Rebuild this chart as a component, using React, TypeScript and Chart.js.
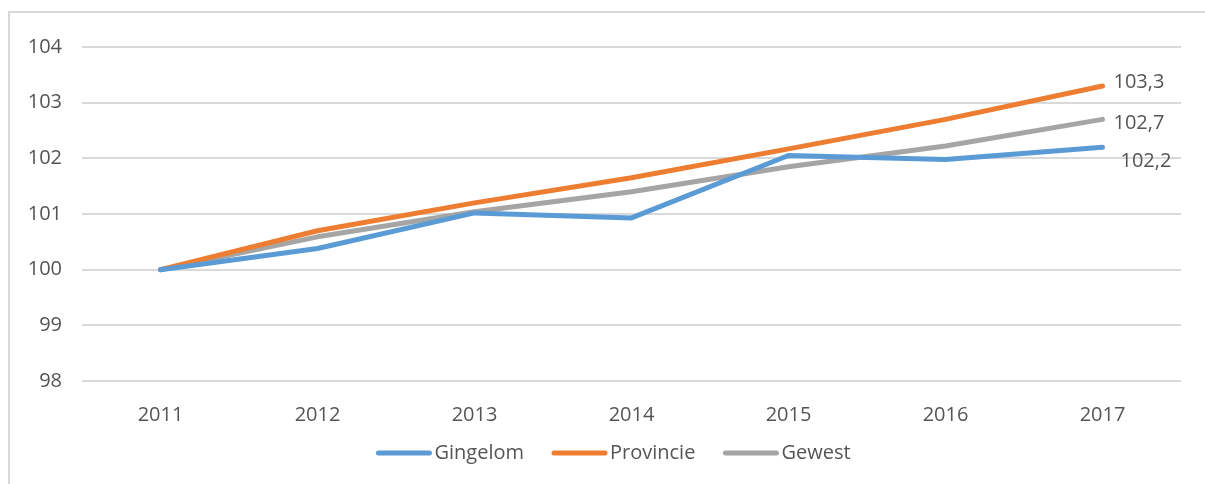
import React, { useEffect, useRef } from "react";
import { Chart, registerables } from "chart.js";

Chart.register(...registerables);

const years = ["2011", "2012", "2013", "2014", "2015", "2016", "2017"];
const gingelom = [100, 100.38, 101.02, 100.93, 102.05, 101.98, 102.2];
const provincie = [100, 100.7, 101.2, 101.65, 102.17, 102.7, 103.3];
const gewest = [100, 100.59, 101.04, 101.4, 101.85, 102.22, 102.7];
const seriesNames = ["Gingelom", "Provincie", "Gewest"];
const seriesColors = ["#5B9BD5", "#ED7D31", "#A5A5A5"];
const endLabelOffsets = [
  { dx: 18, dy: 14 },
  { dx: 11, dy: -4 },
  { dx: 11, dy: 4 },
];

const FONT = "'Open Sans', 'Liberation Sans', sans-serif";
const TEXT = "#555555";
const FS = 20;

const endLabelPlugin = {
  id: "endLabels",
  afterDatasetsDraw(chart: any) {
    const ctx = chart.ctx;
    ctx.save();
    ctx.font = `${FS}px ${FONT}`;
    ctx.fillStyle = TEXT;
    ctx.textAlign = "left";
    ctx.textBaseline = "middle";
    chart.data.datasets.forEach((ds: any, i: number) => {
      const meta = chart.getDatasetMeta(i);
      const last = meta.data[meta.data.length - 1];
      const v = ds.data[ds.data.length - 1];
      const txt = v.toFixed(1).replace(".", ",");
      const o = endLabelOffsets[i];
      ctx.fillText(txt, last.x + o.dx, last.y + o.dy);
    });
    ctx.restore();
  },
};

const legendPlugin = {
  id: "customLegend",
  afterDraw(chart: any) {
    const ctx = chart.ctx;
    ctx.save();
    ctx.font = `${FS}px ${FONT}`;
    ctx.textBaseline = "middle";
    ctx.textAlign = "left";
    const boxW = 55;
    const gap = 3;
    const itemGap = 28;
    const widths = chart.data.datasets.map(
      (ds: any) => boxW + gap + ctx.measureText(ds.label).width
    );
    const total = widths.reduce((a: number, b: number) => a + b, 0) + itemGap * (widths.length - 1);
    const cx = (chart.chartArea.left + chart.chartArea.right) / 2 - 18;
    let x = cx - total / 2;
    const y = 453;
    chart.data.datasets.forEach((ds: any, i: number) => {
      ctx.strokeStyle = ds.borderColor;
      ctx.lineWidth = 5;
      ctx.lineCap = "round";
      ctx.beginPath();
      ctx.moveTo(x + 2, y);
      ctx.lineTo(x + boxW - 2, y);
      ctx.stroke();
      ctx.fillStyle = TEXT;
      ctx.fillText(ds.label, x + boxW + gap, y);
      x += widths[i] + itemGap;
    });
    ctx.restore();
  },
};

export default function App() {
  const ref = useRef<HTMLCanvasElement>(null);
  useEffect(() => {
    if (!ref.current) return;
    const values = [gingelom, provincie, gewest];
    const chart = new Chart(ref.current, {
      type: "line",
      data: {
        labels: years,
        datasets: values.map((d, i) => ({
          label: seriesNames[i],
          data: d,
          borderColor: seriesColors[i],
          backgroundColor: seriesColors[i],
          borderWidth: 5,
          pointRadius: 0,
          borderCapStyle: "round" as const,
          borderJoinStyle: "round" as const,
          tension: 0,
        })),
      },
      options: {
        responsive: false,
        animation: false,
        layout: { padding: { left: 0, right: 24, top: 47, bottom: 0 } },
        plugins: {
          legend: { display: false },
          tooltip: { enabled: false },
        },
        scales: {
          x: {
            offset: true,
            grid: { display: false },
            border: { display: false },
            ticks: {
              color: TEXT,
              font: { family: FONT, size: FS },
              padding: 14,
              maxRotation: 0,
            },
            afterFit: (s: any) => {
              s.height = 103;
            },
          },
          y: {
            min: 98,
            max: 104,
            grid: { color: "#D9D9D9", lineWidth: 2, drawTicks: false },
            border: { display: false },
            ticks: {
              stepSize: 1,
              color: TEXT,
              font: { family: FONT, size: FS },
              padding: 20,
            },
            afterFit: (s: any) => {
              s.width = 82;
            },
          },
        },
      },
      plugins: [endLabelPlugin, legendPlugin],
    });
    return () => chart.destroy();
  }, []);
  return (
    <div style={{ position: "absolute", left: 0, top: 0, width: 1205, height: 484, background: "#fff" }}>
      <div
        style={{
          position: "absolute",
          left: 8,
          top: 11,
          width: 1197,
          height: 473,
          borderTop: "2px solid #D9D9D9",
          borderLeft: "2px solid #D9D9D9",
          boxSizing: "border-box",
        }}
      />
      <canvas ref={ref} width={1205} height={484} style={{ position: "absolute", left: 0, top: 0 }} />
    </div>
  );
}
